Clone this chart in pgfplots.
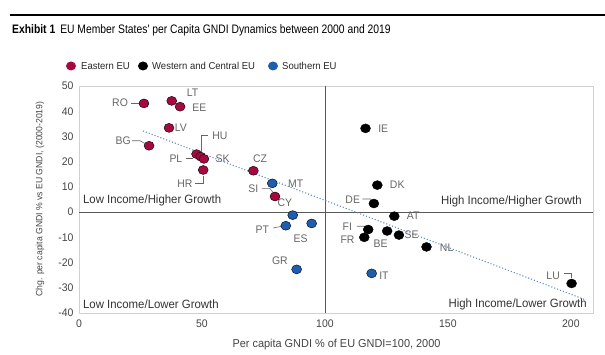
\documentclass[border=0pt]{standalone}
\usepackage{pgfplots}
\pgfplotsset{compat=1.18}
\usepackage{fontspec}
\setmainfont{Liberation Sans}[FakeStretch=0.95]
\newfontfamily\titlefont{Liberation Sans}[FakeStretch=0.84]
\definecolor{eastc}{HTML}{A6093D}
\definecolor{southc}{HTML}{1F5EAD}
\definecolor{labc}{HTML}{666666}
\definecolor{tickc}{HTML}{444444}
\begin{document}
\begin{tikzpicture}[x=1pt,y=1pt]
\useasboundingbox (-79,-42) rectangle (526,313);
\begin{axis}[
  at={(0,0)}, anchor=south west,
  scale only axis, width=514pt, height=227pt,
  xmin=0, xmax=209, ymin=-40, ymax=50,
  xtick={0,50,100,150,200}, ytick={-40,-30,...,50},
  major tick length=0pt,
  axis line style={draw=black!18},
  tick label style={font=\fontsize{11}{13}\selectfont, text=tickc},
  /pgf/number format/assume math mode=true,
  xticklabel style={yshift=-3pt},
  yticklabel style={xshift=-2pt},
  clip=false,
]
\draw[black!65, line width=0.8pt] (axis cs:100,-40) -- (axis cs:100,50);
\draw[black!65, line width=0.8pt] (axis cs:0,0) -- (axis cs:209,0);

% trend line
\addplot[southc!70, dotted, line width=1.1pt, forget plot] coordinates {(26,32.2) (206,-34.8)};

% Eastern EU
\addplot[only marks, mark=*, mark size=5pt, mark options={fill=eastc, draw=none, yscale=0.9}] coordinates {
(26.4,43.1) (37.7,44.1) (41.1,41.8) (36.6,33.4) (28.5,26.3)
(47.8,23.0) (49.5,22.0) (50.8,21.1) (50.5,16.7) (70.9,16.4) (79.7,6.2)
};
% Western and Central EU
\addplot[only marks, mark=*, mark size=5pt, mark options={fill=black, draw=none, yscale=0.9}] coordinates {
(116.5,33.2) (121.3,10.7) (119.9,3.4) (128.2,-1.6) (117.6,-6.9)
(116.0,-10.0) (125.3,-7.5) (130.1,-9.1) (141.3,-13.8) (200.3,-28.3)
};
% Southern EU
\addplot[only marks, mark=*, mark size=5pt, mark options={fill=southc, draw=none, yscale=0.9}] coordinates {
(78.6,11.4) (86.9,-1.2) (84.1,-5.4) (94.6,-4.5) (88.5,-22.7) (119.0,-24.3)
};

% leader lines
\begin{scope}[labc, line width=0.6pt]
\draw (axis cs:21.1,43.2) -- (axis cs:24.2,43.2);
\draw (axis cs:21.5,28.3) -- (axis cs:24.8,28.3) -- (axis cs:26.8,27.2);
\draw (axis cs:52.3,30.5) -- (axis cs:49.9,30.5) -- (axis cs:49.9,24.0);
\draw (axis cs:43.5,21.4) -- (axis cs:46.5,21.4);
\draw (axis cs:47.2,11.4) -- (axis cs:50.5,11.4) -- (axis cs:50.5,14.5);
\draw (axis cs:74.4,9.4) -- (axis cs:77.6,9.4) -- (axis cs:79.3,7.3);
\draw (axis cs:78.9,-6.3) -- (axis cs:82.5,-5.6);
\draw (axis cs:115.2,5.2) -- (axis cs:118.6,5.2) -- (axis cs:119.6,4.0);
\draw (axis cs:113.0,-5.6) -- (axis cs:116.5,-5.6) -- (axis cs:117.3,-6.3);
\draw (axis cs:197.3,-24.2) -- (axis cs:200.3,-24.2) -- (axis cs:200.3,-26.2);
\end{scope}

% country labels
\begin{scope}[every node/.style={font=\fontsize{11}{13}\selectfont, text=labc, inner sep=0pt}]
\node at (axis cs:16.7,43.2) {RO};
\node at (axis cs:46.2,47.3) {LT};
\node at (axis cs:48.9,41.5) {EE};
\node at (axis cs:41.4,33.4) {LV};
\node at (axis cs:18.0,28.3) {BG};
\node at (axis cs:57.3,30.1) {HU};
\node at (axis cs:39.4,21.0) {PL};
\node at (axis cs:58.4,21.3) {SK};
\node at (axis cs:43.1,11.4) {HR};
\node at (axis cs:73.6,21.3) {CZ};
\node at (axis cs:88.1,11.1) {MT};
\node at (axis cs:70.9,9.4) {SI};
\node at (axis cs:83.7,3.7) {CY};
\node at (axis cs:74.5,-6.9) {PT};
\node at (axis cs:90.1,-10.4) {ES};
\node at (axis cs:81.7,-19.3) {GR};
\node at (axis cs:124.0,-25.4) {IT};
\node at (axis cs:123.7,32.9) {IE};
\node at (axis cs:129.4,10.7) {DK};
\node at (axis cs:111.3,4.8) {DE};
\node at (axis cs:135.9,-1.6) {AT};
\node at (axis cs:109.1,-5.6) {FI};
\node at (axis cs:109.2,-11.1) {FR};
\node at (axis cs:122.6,-12.4) {BE};
\node at (axis cs:135.2,-8.9) {SE};
\node at (axis cs:149.5,-14.2) {NL};
\node at (axis cs:192.8,-25.3) {LU};
\end{scope}

% quadrant labels
\begin{scope}[every node/.style={font=\fontsize{12}{14}\selectfont, text=black!80, inner sep=0pt}]
\node[anchor=west] at (axis cs:1.6,4.6) {Low Income/Higher Growth};
\node[anchor=east] at (axis cs:204.5,4.4) {High Income/Higher Growth};
\node[anchor=west] at (axis cs:1.6,-36.5) {Low Income/Lower Growth};
\node[anchor=east] at (axis cs:206.5,-36.5) {High Income/Lower Growth};
\end{scope}
\end{axis}

% axis labels
\node[rotate=90, font=\fontsize{9.1}{11}\selectfont, text=tickc] at (-39,114) {Chg. per capita GNDI \% vs EU GNDI, (2000-2019)};
\node[font=\fontsize{11.5}{13}\selectfont, text=tickc] at (257.5,-32) {Per capita GNDI \% of EU GNDI=100, 2000};

% top rule and title
\draw[black, line width=1.2pt] (-69,298) -- (526,298);
\node[anchor=west, font=\titlefont\fontsize{12.3}{14}\selectfont, inner sep=0pt] at (-67,283) {\textbf{Exhibit 1}\hspace{5pt}EU Member States' per Capita GNDI Dynamics between 2000 and 2019};

% legend
\begin{scope}[every node/.style={font=\fontsize{10}{12}\selectfont, text=black!85, inner sep=0pt, anchor=west}]
\fill[eastc] (-8,247) ellipse (5pt and 4.5pt);
\node at (2,247) {Eastern EU};
\fill[black] (64,247) ellipse (5pt and 4.5pt);
\node at (73,247) {Western and Central EU};
\fill[southc] (194,247) ellipse (5pt and 4.5pt);
\node at (203,247) {Southern EU};
\end{scope}
\end{tikzpicture}
\end{document}
